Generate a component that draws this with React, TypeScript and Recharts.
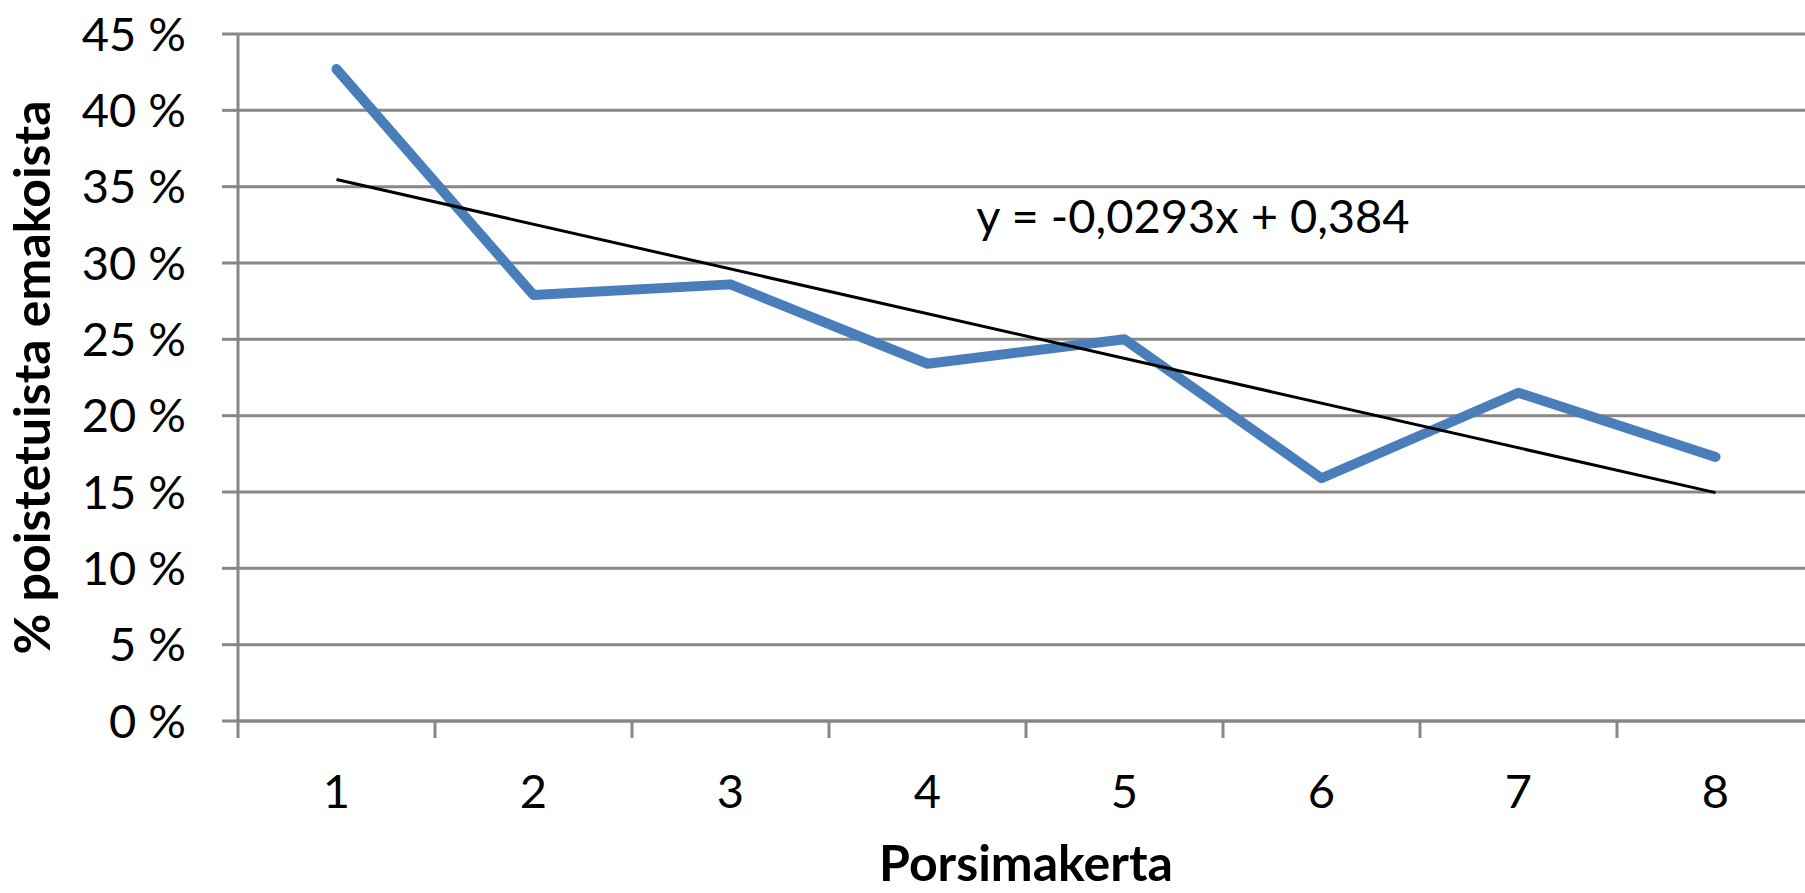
import {
  CartesianGrid,
  ComposedChart,
  Line,
  XAxis,
  YAxis
} from "recharts";

// Farrowing number (porsimakerta) and share of sows removed at that farrowing
const farrowings = ["1", "2", "3", "4", "5", "6", "7", "8"];
const removedShare = [0.427, 0.279, 0.286, 0.234, 0.25, 0.159, 0.215, 0.173];
const percentTicks = [0, 0.05, 0.1, 0.15, 0.2, 0.25, 0.3, 0.35, 0.4, 0.45];

// Linear trend fitted in the spreadsheet
const trendSlope = -0.0293;
const trendIntercept = 0.384;

const FONT = "Lato, 'Open Sans', sans-serif";
const GRID = "#878787";
const BLUE = "#4A7EBB";

const chartData = farrowings.map((label, i) => ({
  n: i + 1,
  label,
  removed: removedShare[i]
}));

const trendData = [1, farrowings.length].map((n) => ({
  n,
  trend: trendIntercept + trendSlope * n
}));

// category centres carry the labels, the half steps carry the tick marks
const xTicks = [
  ...farrowings.flatMap((_, i) => [i + 0.5, i + 1]),
  farrowings.length + 0.5
];

const fmtDecimal = (v: number) => String(v).replace(".", ",");
const equation = `y = ${fmtDecimal(trendSlope)}x + ${fmtDecimal(trendIntercept)}`;

function CategoryTick(props: any) {
  const { x, y, payload } = props;
  const v = payload.value as number;
  if (!Number.isInteger(v)) {
    return <line x1={x} x2={x} y1={y} y2={y + 17} stroke={GRID} strokeWidth={3} />;
  }
  return (
    <text x={x} y={y + 87} textAnchor="middle" fill="#000" fontFamily={FONT} fontSize={47}>
      {farrowings[v - 1]}
    </text>
  );
}

function YTitle(props: any) {
  const vb = props.viewBox ?? { x: 0, y: 0, width: 0, height: 0 };
  const cx = vb.x + 50;
  const cy = vb.y + vb.height / 2;
  return (
    <text
      x={cx}
      y={cy}
      transform={`rotate(-90, ${cx}, ${cy})`}
      textAnchor="middle"
      fill="#000"
      fontFamily={FONT}
      fontWeight={700}
      fontSize={50}
    >
      % poistetuista emakoista
    </text>
  );
}

function XTitle(props: any) {
  const vb = props.viewBox ?? { x: 0, y: 0, width: 0, height: 0 };
  return (
    <text
      x={vb.x + vb.width / 2}
      y={vb.y + 160}
      textAnchor="middle"
      fill="#000"
      fontFamily={FONT}
      fontWeight={700}
      fontSize={50}
    >
      Porsimakerta
    </text>
  );
}

export default function App() {
  return (
    <div
      style={{
        position: "fixed",
        left: 0,
        top: 0,
        width: 1805,
        height: 893,
        overflow: "hidden",
        background: "#fff"
      }}
    >
      <ComposedChart
        width={1814}
        height={893}
        data={chartData}
        margin={{ top: 34, right: 0, bottom: 0, left: 0 }}
      >
        <CartesianGrid vertical={false} stroke={GRID} strokeWidth={3} />
        <XAxis
          dataKey="n"
          type="number"
          domain={[0.5, farrowings.length + 0.5]}
          ticks={xTicks}
          interval={0}
          height={172}
          tickSize={0}
          tickMargin={0}
          tickLine={false}
          axisLine={{ stroke: GRID, strokeWidth: 3 }}
          tick={<CategoryTick />}
          label={(p: any) => <XTitle {...p} />}
        />
        <YAxis
          type="number"
          domain={[0, 0.45]}
          ticks={percentTicks}
          interval={0}
          width={238}
          tickSize={16}
          tickMargin={36}
          tickLine={{ stroke: GRID, strokeWidth: 3 }}
          axisLine={{ stroke: GRID, strokeWidth: 3 }}
          tick={{ fill: "#000", fontFamily: FONT, fontSize: 47 }}
          tickFormatter={(v: number) => `${Math.round(v * 100)} %`}
          label={(p: any) => <YTitle {...p} />}
        />
        <Line
          dataKey="removed"
          type="linear"
          stroke={BLUE}
          strokeWidth={10}
          strokeLinecap="round"
          strokeLinejoin="round"
          dot={false}
          activeDot={false}
          isAnimationActive={false}
        />
        <Line
          data={trendData}
          dataKey="trend"
          type="linear"
          stroke="#000"
          strokeWidth={3}
          dot={false}
          activeDot={false}
          isAnimationActive={false}
        />
        <text x={1193} y={233} textAnchor="middle" fill="#000" fontFamily={FONT} fontSize={47}>
          {equation}
        </text>
      </ComposedChart>
    </div>
  );
}
